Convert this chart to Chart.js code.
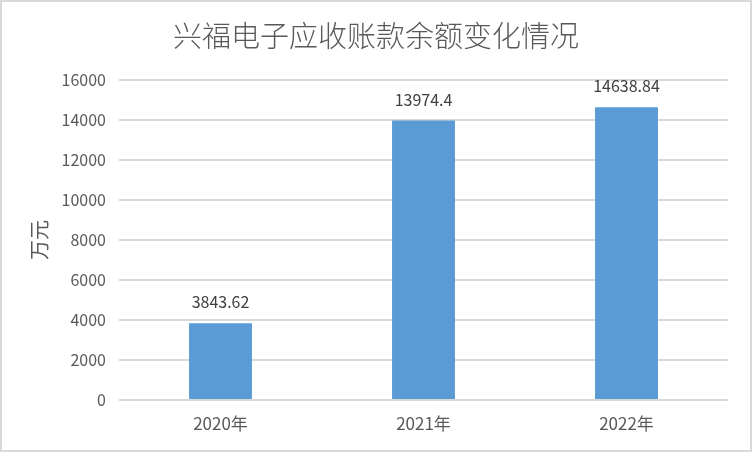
<!DOCTYPE html>
<html>
<head>
<meta charset="utf-8">
<script src="https://cdn.jsdelivr.net/npm/chart.js@4"></script>
<style>
  html, body { margin: 0; padding: 0; background: #fff; }
  #wrap { width: 752px; height: 452px; position: relative; }
</style>
</head>
<body>
<div id="wrap"><canvas id="chart" width="752" height="452"></canvas></div>
<script>
// chart data
const chartTitle = '兴福电子应收账款余额变化情况';
const years = ['2020年', '2021年', '2022年'];
const receivables = [3843.62, 13974.4, 14638.84];
const unitLabel = '万元';

const textColor = '#595959';
const fontFamily = '"Noto Sans CJK SC", "Noto Sans", sans-serif';

// title, frame and value labels drawn on top of the chart
const decorPlugin = {
    id: 'decor',
    afterDraw(chart) {
        const ctx = chart.ctx;
        ctx.save();

        // outer frame
        ctx.strokeStyle = '#d9d9d9';
        ctx.lineWidth = 2;
        ctx.strokeRect(1, 1, chart.width - 2, chart.height - 2);

        // title
        ctx.fillStyle = textColor;
        ctx.font = '300 29px ' + fontFamily;
        ctx.textAlign = 'center';
        ctx.textBaseline = 'middle';
        ctx.fillText(chartTitle, 376, 36);

        // value labels
        ctx.fillStyle = '#404040';
        ctx.font = '16px ' + fontFamily;
        const meta = chart.getDatasetMeta(0);
        meta.data.forEach((bar, i) => {
            ctx.fillText(String(receivables[i]), bar.x, bar.y - 21);
        });
        ctx.restore();
    }
};

const ctx = document.getElementById('chart').getContext('2d');
new Chart(ctx, {
    type: 'bar',
    data: {
        labels: years,
        datasets: [{
            label: unitLabel,
            data: receivables,
            backgroundColor: '#5b9bd5',
            categoryPercentage: 1,
            barPercentage: 0.31
        }]
    },
    options: {
        responsive: false,
        animation: false,
        layout: {
            padding: { top: 80, right: 24, left: 0, bottom: 0 }
        },
        plugins: {
            legend: { display: false },
            title: { display: false },
            tooltip: { enabled: false }
        },
        scales: {
            x: {
                grid: { display: false, drawTicks: false },
                border: { display: false },
                ticks: {
                    color: textColor,
                    font: { family: fontFamily, size: 17 },
                    padding: 13
                },
                afterFit(scale) { scale.height = 52; }
            },
            y: {
                min: 0,
                max: 16000,
                grid: { color: '#d9d9d9', lineWidth: 2, drawTicks: false },
                border: { display: false },
                ticks: {
                    stepSize: 2000,
                    color: textColor,
                    font: { family: fontFamily, size: 16 },
                    padding: 13,
                    callback: value => String(value)
                },
                title: {
                    display: true,
                    text: unitLabel,
                    color: textColor,
                    font: { family: fontFamily, size: 20 },
                    padding: { top: 27, bottom: 0 }
                },
                afterFit(scale) { scale.width = 119; }
            }
        }
    },
    plugins: [decorPlugin]
});
</script>
</body>
</html>
